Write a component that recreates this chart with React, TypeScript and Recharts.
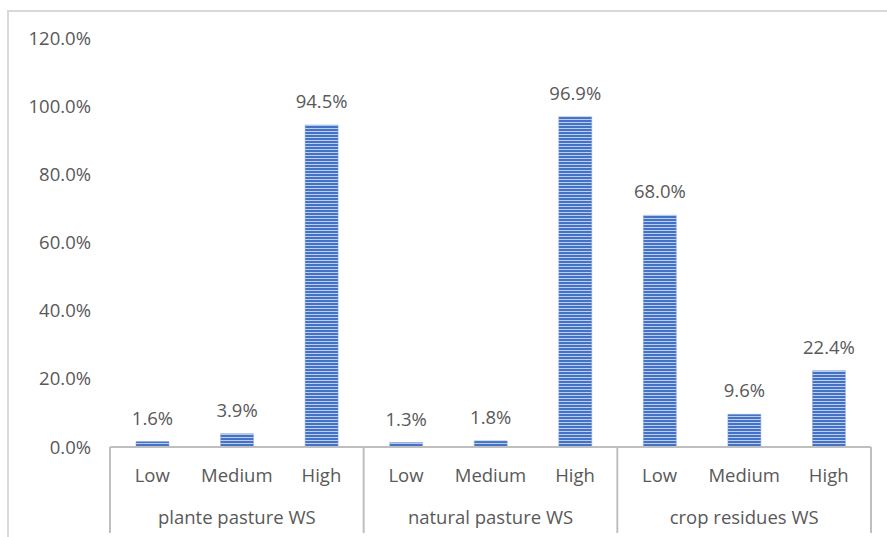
import React from "react";
import { BarChart, Bar, XAxis, YAxis, LabelList } from "recharts";

const levels = ["Low", "Medium", "High"];
const groups = ["plante pasture WS", "natural pasture WS", "crop residues WS"];
const plantePasture = [1.6, 3.9, 94.5];
const naturalPasture = [1.3, 1.8, 96.9];
const cropResidues = [68.0, 9.6, 22.4];
const yTicks = [0, 20, 40, 60, 80, 100, 120];

const groupValues = [plantePasture, naturalPasture, cropResidues];
const data = groups.flatMap((g, gi) =>
  levels.map((l, li) => ({ key: `${gi}-${li}`, level: l, group: g, gi, li, value: groupValues[gi][li] }))
);

const W = 887;
const H = 537;
const PLOT_LEFT = 110;
const PLOT_RIGHT = 871;
const PLOT_TOP = 38;
const AXIS_Y = 447;
const BAND = (PLOT_RIGHT - PLOT_LEFT) / data.length;
const FONT = "'Open Sans', Lato, sans-serif";
const FS = 18.5;
const TEXT = "#595959";
const LINE = "#bfbfbf";

const XTick = (props: any) => {
  const { x, y, index } = props;
  const d = data[index];
  if (!d) return null;
  const left = x - BAND / 2;
  const right = x + BAND / 2;
  return (
    <g>
      <text x={x} y={y + 27} textAnchor="middle" fill={TEXT} fontSize={FS} fontFamily={FONT}>
        {d.level}
      </text>
      {d.li === 1 && (
        <text x={x} y={y + 69} textAnchor="middle" fill={TEXT} fontSize={FS} fontFamily={FONT}>
          {d.group}
        </text>
      )}
      {d.li === 0 && <line x1={left} x2={left} y1={AXIS_Y} y2={533} stroke={LINE} strokeWidth={2} />}
      {d.li === 2 && d.gi === groups.length - 1 && (
        <line x1={right} x2={right} y1={AXIS_Y} y2={533} stroke={LINE} strokeWidth={2} />
      )}
    </g>
  );
};

export default function App() {
  return (
    <div style={{ position: "absolute", left: 0, top: 0, width: W, height: H, background: "#fff", overflow: "hidden" }}>
      <div
        style={{
          position: "absolute",
          left: 7,
          top: 10,
          width: W,
          height: H,
          borderTop: "2px solid #d9d9d9",
          borderLeft: "2px solid #d9d9d9",
        }}
      />
      <div style={{ position: "absolute", left: 0, top: 0 }}>
        <BarChart
          width={W}
          height={H}
          data={data}
          margin={{ top: PLOT_TOP, right: W - PLOT_RIGHT, left: 0, bottom: 0 }}
          barSize={33}
        >
          <defs>
            <pattern id="stripes" width="6" height="3" patternUnits="userSpaceOnUse">
              <rect x="0" y="0" width="6" height="3" fill="#4472c4" />
              <rect x="0" y="2" width="6" height="1" fill="#bccdf0" />
            </pattern>
          </defs>
          <YAxis
            width={PLOT_LEFT}
            domain={[0, 120]}
            ticks={yTicks}
            interval={0}
            axisLine={false}
            tickLine={false}
            tickSize={0}
            tickMargin={19}
            tickFormatter={(v: number) => `${v.toFixed(1)}%`}
            tick={{ fill: TEXT, fontSize: FS, fontFamily: FONT }}
          />
          <XAxis
            dataKey="key"
            height={H - AXIS_Y}
            interval={0}
            axisLine={{ stroke: LINE, strokeWidth: 2 }}
            tickLine={false}
            tick={<XTick />}
          />
          <Bar dataKey="value" fill="url(#stripes)" stroke="#8faadc" strokeWidth={0.5} isAnimationActive={false}>
            <LabelList
              dataKey="value"
              position="top"
              offset={17}
              formatter={(v: number) => `${v.toFixed(1)}%`}
              style={{ fill: TEXT, fontSize: FS, fontFamily: FONT }}
            />
          </Bar>
        </BarChart>
      </div>
    </div>
  );
}
